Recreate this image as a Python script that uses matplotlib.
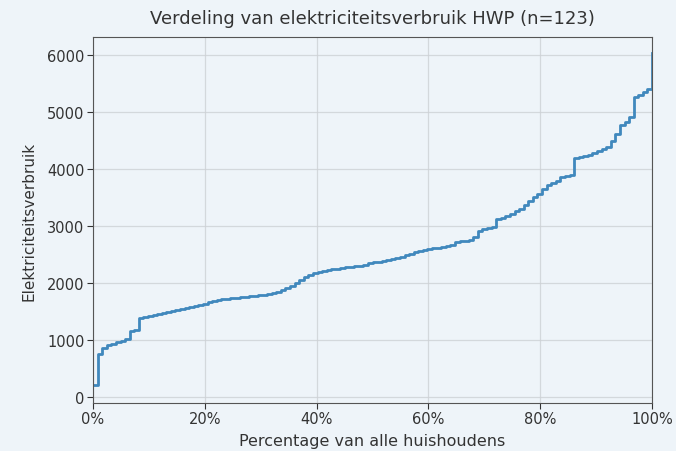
import numpy as np
import matplotlib
matplotlib.use("Agg")
import matplotlib.pyplot as plt
from matplotlib.ticker import PercentFormatter

# gesorteerd elektriciteitsverbruik per huishouden (n=123)
verbruik = [
    200, 740, 860, 900, 930, 950, 980, 1010, 1150, 1160,
    1385, 1395, 1410, 1425, 1440, 1460, 1480, 1495, 1510, 1530,
    1550, 1570, 1590, 1610, 1630, 1655, 1670, 1690, 1705, 1715,
    1725, 1735, 1745, 1755, 1760, 1770, 1780, 1785, 1795, 1810,
    1840, 1870, 1900, 1940, 1990, 2050, 2100, 2130, 2160, 2185,
    2210, 2225, 2235, 2245, 2255, 2265, 2275, 2285, 2295, 2310,
    2340, 2355, 2365, 2375, 2395, 2410, 2430, 2455, 2480, 2510,
    2535, 2555, 2575, 2595, 2605, 2615, 2625, 2640, 2655, 2710,
    2725, 2735, 2750, 2800, 2900, 2940, 2960, 2975, 3110, 3140,
    3170, 3200, 3260, 3290, 3360, 3440, 3500, 3560, 3640, 3720,
    3750, 3790, 3850, 3870, 3890, 4180, 4200, 4220, 4245, 4280,
    4310, 4340, 4380, 4480, 4600, 4760, 4820, 4900, 5250, 5300,
    5350, 5400, 6020,
]
n = len(verbruik)
pct = np.arange(n) / (n - 1)

titel = "Verdeling van elektriciteitsverbruik HWP (n=%d)" % n
xlabel = "Percentage van alle huishoudens"
ylabel = "Elektriciteitsverbruik"

bg = "#eef4f9"
fig = plt.figure(figsize=(6.76, 4.52), dpi=100, facecolor=bg)
ax = fig.add_axes([0.1376, 0.106, 0.8269, 0.81])
ax.set_facecolor(bg)

ax.step(pct, verbruik, where="post", color="#4088bd", lw=2)

ax.set_xlim(0, 1)
ax.set_ylim(-115, 6310)
ax.set_yticks([0, 1000, 2000, 3000, 4000, 5000, 6000])
ax.xaxis.set_major_formatter(PercentFormatter(1.0, decimals=0))
ax.grid(True, color="#cdd1d5", lw=0.9, alpha=0.8)
ax.set_axisbelow(True)

for s in ax.spines.values():
    s.set_color("#555555")
ax.tick_params(labelsize=10.5, colors="#333333", pad=2, length=4)

ax.set_title(titel, fontsize=13, color="#333333", pad=10)
ax.set_xlabel(xlabel, fontsize=11.5, color="#333333", labelpad=5)
ax.set_ylabel(ylabel, fontsize=11, color="#333333", labelpad=8)

fig.savefig("out.png", dpi=100, facecolor=bg)
